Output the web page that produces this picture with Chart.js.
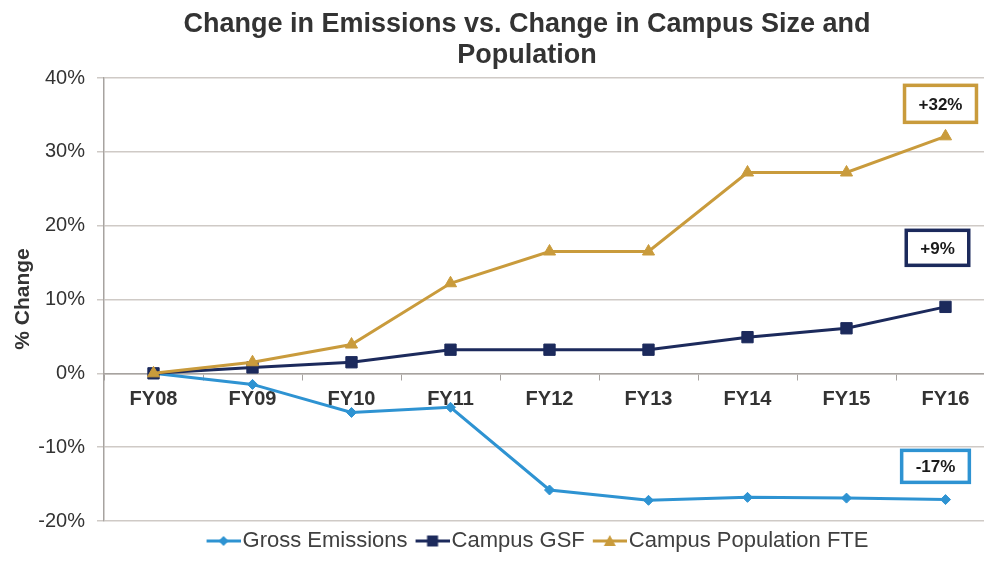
<!DOCTYPE html>
<html>
<head>
<meta charset="utf-8">
<script src="https://cdn.jsdelivr.net/npm/chart.js@4.4.1/dist/chart.umd.min.js"></script>
<style>
  html, body { margin: 0; padding: 0; background: #fff; overflow: hidden; }
  #wrap { width: 1046px; height: 563px; }
</style>
</head>
<body>
<div id="wrap"><canvas id="emissionsChart" width="1046" height="563"></canvas></div>
<script>
// data
const categories = ['FY08', 'FY09', 'FY10', 'FY11', 'FY12', 'FY13', 'FY14', 'FY15', 'FY16'];
const grossEmissions = [0, -1.5, -5.3, -4.6, -15.8, -17.2, -16.8, -16.9, -17.1];
const campusGsf = [0, 0.8, 1.5, 3.2, 3.2, 3.2, 4.9, 6.1, 9.0];
const campusPopulation = [0, 1.5, 3.9, 12.2, 16.5, 16.5, 27.2, 27.2, 32.1];
const seriesNames = ['Gross Emissions', 'Campus GSF', 'Campus Population FTE'];
const calloutTexts = ['-17%', '+9%', '+32%'];
const calloutValues = [-12.6, 17.0, 36.5]; // where the boxes sit on the y scale
const yMin = -20, yMax = 40, yStep = 10;

const colors = ['#2e93d2', '#1c2a5c', '#c99b3c'];
const pointStyles = ['rectRot', 'rect', 'triangle'];
const pointRadii = [5, 8, 7];
const calloutShift = [-10, -8, -5];
const calloutHeights = [32, 35, 37];
const FONT = '"Liberation Sans", Arial, sans-serif';

// line+marker swatch for the legend (drawn to sit right up against the text)
function makeSwatch(color, style) {
    const c = document.createElement('canvas');
    c.width = 42; c.height = 14;
    const g = c.getContext('2d');
    g.strokeStyle = color; g.fillStyle = color; g.lineWidth = 3;
    g.beginPath(); g.moveTo(8, 7); g.lineTo(42, 7); g.stroke();
    g.beginPath();
    if (style === 'rectRot') {
        g.moveTo(25, 2); g.lineTo(30, 7); g.lineTo(25, 12); g.lineTo(20, 7);
    } else if (style === 'rect') {
        g.rect(19.5, 1.5, 11, 11);
    } else {
        g.moveTo(25, 1); g.lineTo(31, 12); g.lineTo(19, 12);
    }
    g.closePath(); g.fill();
    return c;
}
const swatches = colors.map((c, i) => makeSwatch(c, pointStyles[i]));

// title and y axis title drawn at fixed spots
const textPlugin = {
    id: 'textPlugin',
    afterDraw(chart) {
        const ctx = chart.ctx;
        ctx.save();
        ctx.fillStyle = '#333333';
        ctx.textAlign = 'center';
        ctx.textBaseline = 'middle';
        ctx.font = 'bold 27px ' + FONT;
        ctx.fillText('Change in Emissions vs. Change in Campus Size and', 527, 25);
        ctx.fillText('Population', 527, 56);
        ctx.translate(23, 299);
        ctx.rotate(-Math.PI / 2);
        ctx.font = 'bold 21px ' + FONT;
        ctx.fillText('% Change', 0, 0);
        ctx.restore();
    }
};

// boxed end labels
const calloutPlugin = {
    id: 'calloutPlugin',
    afterDatasetsDraw(chart) {
        const ctx = chart.ctx;
        const xs = chart.scales.x, ys = chart.scales.y;
        ctx.save();
        ctx.font = 'bold 17px ' + FONT;
        ctx.textAlign = 'center';
        ctx.textBaseline = 'middle';
        calloutTexts.forEach((t, i) => {
            const cx = xs.getPixelForValue(categories.length - 1) + calloutShift[i];
            const cy = ys.getPixelForValue(calloutValues[i]);
            const w = ctx.measureText(t).width + 28;
            const h = calloutHeights[i];
            ctx.fillStyle = '#fff';
            ctx.fillRect(cx - w / 2, cy - h / 2, w, h);
            ctx.lineWidth = 3.5;
            ctx.strokeStyle = colors[i];
            ctx.strokeRect(cx - w / 2, cy - h / 2, w, h);
            ctx.fillStyle = '#1a1a1a';
            ctx.fillText(t, cx, cy + 1);
        });
        ctx.restore();
    }
};

const seriesData = [grossEmissions, campusGsf, campusPopulation];

new Chart(document.getElementById('emissionsChart').getContext('2d'), {
    type: 'line',
    data: {
        labels: categories,
        datasets: seriesData.map((d, i) => ({
            label: seriesNames[i],
            data: d,
            borderColor: colors[i],
            backgroundColor: colors[i],
            borderWidth: 3,
            pointStyle: pointStyles[i],
            pointRadius: pointRadii[i],
            pointBorderWidth: 1,
            pointBackgroundColor: colors[i],
            pointBorderColor: colors[i],
            tension: 0,
            fill: false,
            yAxisID: 'y',
            order: 2 - i
        }))
    },
    options: {
        responsive: false,
        animation: false,
        layout: { padding: { left: 30, right: 0, top: 78, bottom: 1 } },
        plugins: {
            title: { display: false },
            tooltip: { enabled: false },
            legend: {
                position: 'bottom',
                labels: {
                    usePointStyle: true,
                    pointStyleWidth: 24,
                    boxWidth: 24,
                    padding: 9,
                    color: '#404040',
                    font: { family: FONT, size: 22 },
                    generateLabels: (chart) => chart.data.datasets.map((ds, i) => ({
                        text: ds.label,
                        pointStyle: swatches[i],
                        fillStyle: colors[i],
                        strokeStyle: colors[i],
                        lineWidth: 0,
                        hidden: false,
                        datasetIndex: i,
                        fontColor: '#404040'
                    }))
                }
            }
        },
        scales: {
            x: {
                position: { y: 0 },
                offset: true,
                grid: {
                    offset: true,
                    drawOnChartArea: false,
                    drawTicks: true,
                    tickLength: 6,
                    color: '#a7a3a0'
                },
                border: { display: true, color: '#a7a3a0', width: 1.5 },
                ticks: {
                    color: '#333333',
                    padding: 8,
                    font: { family: FONT, size: 20, weight: 'bold' }
                }
            },
            y: {
                position: 'left',
                min: yMin,
                max: yMax,
                afterFit(scale) { scale.width = 74; },
                grid: { color: '#cfcac6', lineWidth: 1.5, tickLength: 7 },
                border: { color: '#a7a3a0', width: 1.5 },
                ticks: {
                    stepSize: yStep,
                    padding: 12,
                    color: '#333333',
                    font: { family: FONT, size: 20 },
                    callback: (v) => v + '%'
                }
            },
            // empty right-hand strip: the plot runs past the picture's right edge
            y2: {
                position: 'right',
                min: yMin,
                max: yMax,
                afterFit(scale) { scale.width = 51; },
                grid: { display: false, drawOnChartArea: false },
                border: { display: false },
                ticks: { display: false }
            }
        }
    },
    plugins: [textPlugin, calloutPlugin]
});
</script>
</body>
</html>
